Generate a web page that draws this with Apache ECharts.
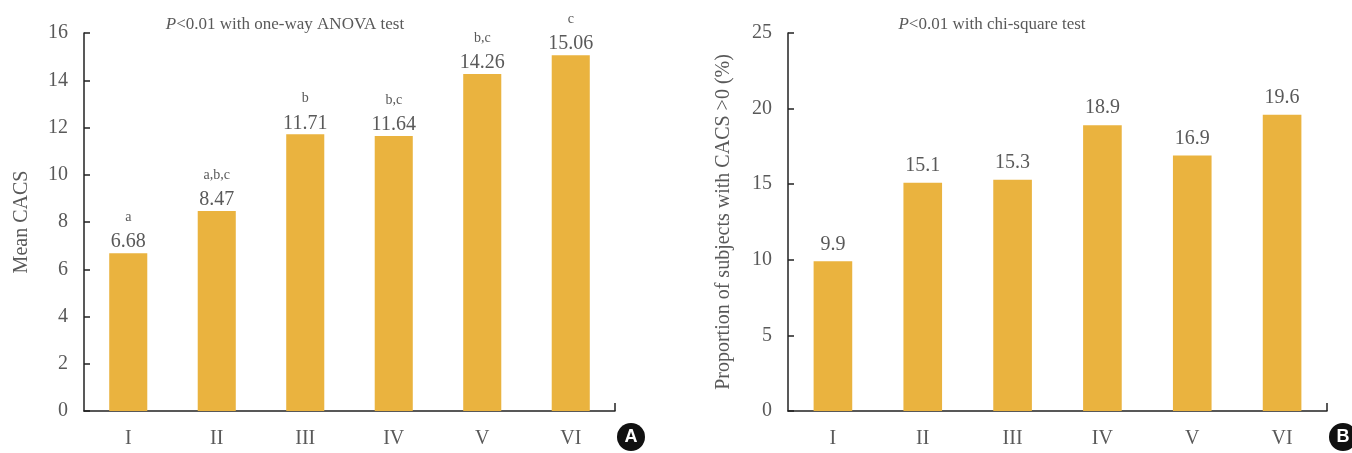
<!DOCTYPE html>
<html><head><meta charset="utf-8">
<script src="https://cdn.jsdelivr.net/npm/echarts@6/dist/echarts.min.js"></script>
<style>html,body{margin:0;padding:0;background:#fff}#c{width:1352px;height:453px}</style>
</head><body><div id="c"></div>
<script>
const categories = ['I','II','III','IV','V','VI'];
const meanCacs = [6.68, 8.47, 11.71, 11.64, 14.26, 15.06];
const meanLetters = ['a','a,b,c','b','b,c','b,c','c'];
const propCacs = [9.9, 15.1, 15.3, 18.9, 16.9, 19.6];
const leftTicks = [0,2,4,6,8,10,12,14,16];
const rightTicks = [0,5,10,15,20,25];

const FONT = '"Liberation Serif", "DejaVu Serif", serif';
const GREY = '#595959';
const BAR = '#EAB33F';

const chart = echarts.init(document.getElementById('c'), null, {renderer:'canvas'});

function yAxis(idx, ticks, name, gap){
  return {
    type:'value', gridIndex:idx, min:ticks[0], max:ticks[ticks.length-1], interval:ticks[1]-ticks[0],
    name:name, nameLocation:'middle', nameGap:gap, nameRotate:90,
    nameTextStyle:{fontFamily:FONT, fontSize:20, color:GREY},
    axisLine:{show:true, lineStyle:{color:'#222', width:1.5}},
    axisTick:{show:true, inside:true, length:6, lineStyle:{color:'#222', width:1.5}},
    axisLabel:{fontFamily:FONT, fontSize:20, color:GREY, margin:16},
    splitLine:{show:false}
  };
}
function xAxis(idx){
  return {
    type:'category', gridIndex:idx, data:categories,
    axisLine:{show:true, lineStyle:{color:'#222', width:1.5}},
    axisTick:{show:false},
    axisLabel:{fontFamily:FONT, fontSize:20, color:GREY, margin:18}
  };
}
const titleRich = {
  i:{fontFamily:FONT,fontStyle:'italic',fontWeight:'normal',fontSize:17,color:GREY},
  n:{fontFamily:FONT,fontWeight:'normal',fontSize:17,color:GREY}
};

chart.setOption({
  animation:false,
  textStyle:{fontFamily:FONT},
  title:[
    {text:'{i|P}{n|<0.01 with one-way ANOVA test}', left:280, top:11, textAlign:'center',
     textStyle:{fontWeight:'normal', rich:titleRich}},
    {text:'{i|P}{n|<0.01 with chi-square test}', left:987, top:11, textAlign:'center',
     textStyle:{fontWeight:'normal', rich:titleRich}}
  ],
  grid:[
    {left:84, top:33, width:531, bottom:42},
    {left:788, top:33, width:539, bottom:42}
  ],
  xAxis:[xAxis(0), xAxis(1)],
  yAxis:[yAxis(0, leftTicks, 'Mean CACS', 52), yAxis(1, rightTicks, 'Proportion of subjects with CACS >0 (%)', 54)],
  series:[
    {type:'bar', xAxisIndex:0, yAxisIndex:0, barWidth:'43%',
     itemStyle:{color:BAR},
     data:meanCacs.map((v,i)=>({value:v, label:{formatter:'{s|'+meanLetters[i]+'}\n{v|'+v.toFixed(2)+'}'}})),
     label:{show:true, position:'top', distance:1,
       rich:{s:{fontFamily:FONT,fontSize:14,color:GREY,lineHeight:30,align:'center'},
             v:{fontFamily:FONT,fontSize:20,color:GREY,lineHeight:20,align:'center'}}}},
    {type:'bar', xAxisIndex:1, yAxisIndex:1, barWidth:'43%',
     itemStyle:{color:BAR},
     data:propCacs,
     label:{show:true, position:'top', distance:7, fontFamily:FONT, fontSize:20, color:GREY,
       formatter:p=>p.value.toFixed(1)}}
  ]
});

const g0 = chart.getModel().getComponent('grid',0).coordinateSystem.getRect();
const g1 = chart.getModel().getComponent('grid',1).coordinateSystem.getRect();
function badge(rect, letter){
  const cx = rect.x + rect.width + 16, cy = rect.y + rect.height + 26;
  return [
    {type:'line', shape:{x1:rect.x+rect.width, y1:rect.y+rect.height, x2:rect.x+rect.width, y2:rect.y+rect.height-8}, style:{stroke:'#222', lineWidth:1.5}},
    {type:'circle', shape:{cx:cx, cy:cy, r:14}, style:{fill:'#111'}},
    {type:'text', x:cx, y:cy, style:{text:letter, fill:'#fff', font:'bold 18px "Liberation Sans", Arial, sans-serif', textAlign:'center', textVerticalAlign:'middle'}}
  ];
}
chart.setOption({graphic:[...badge(g0,'A'), ...badge(g1,'B')]});
</script></body></html>
